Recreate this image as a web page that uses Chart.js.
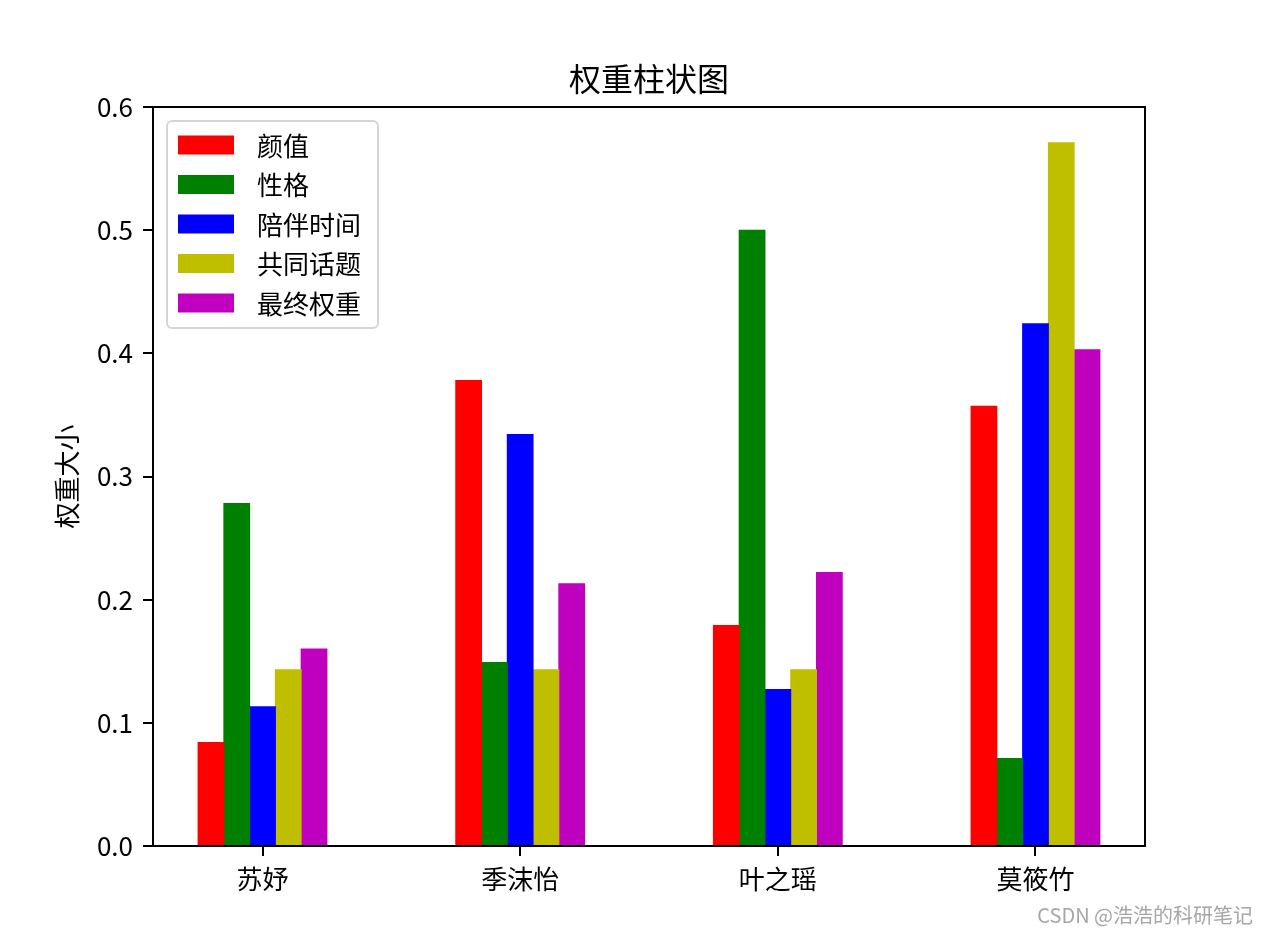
<!DOCTYPE html>
<html>
<head>
<meta charset="utf-8">
<script src="https://cdn.jsdelivr.net/npm/chart.js@4.4.1/dist/chart.umd.min.js"></script>
<style>
  html, body { margin: 0; padding: 0; background: #fff; }
</style>
</head>
<body>
<canvas id="weightChart" width="1269" height="933"></canvas>
<script>
// 四位候选人
const people = ['苏妤', '季沫怡', '叶之瑶', '莫筱竹'];
// 各指标名称
const criteria = ['颜值', '性格', '陪伴时间', '共同话题', '最终权重'];
// 各指标权重 (按人)
const looks = [0.084, 0.378, 0.179, 0.357];
const character = [0.278, 0.149, 0.500, 0.071];
const companyTime = [0.113, 0.334, 0.127, 0.424];
const commonTopics = [0.143, 0.143, 0.143, 0.571];
const finalWeight = [0.160, 0.213, 0.222, 0.403];
const yTicks = [0.0, 0.1, 0.2, 0.3, 0.4, 0.5, 0.6];

const seriesValues = [looks, character, companyTime, commonTopics, finalWeight];
const colors = ['#ff0000', '#008000', '#0000ff', '#bfbf00', '#bf00bf'];

const FONT = "'Noto Sans CJK SC', 'Noto Sans', sans-serif";
Chart.defaults.font.family = FONT;
Chart.defaults.color = '#000';

// legend drawn inside the axes, matplotlib style
const innerLegend = {
    id: 'innerLegend',
    afterDatasetsDraw(chart) {
        const ctx = chart.ctx;
        const ca = chart.chartArea;
        const x0 = ca.left + 14, y0 = ca.top + 14;
        const w = 211, h = 207;
        ctx.save();
        ctx.beginPath();
        ctx.roundRect(x0, y0, w, h, 5);
        ctx.fillStyle = 'rgba(255,255,255,0.8)';
        ctx.fill();
        ctx.lineWidth = 2;
        ctx.strokeStyle = '#d5d5d5';
        ctx.stroke();
        ctx.font = '26px ' + FONT;
        ctx.textBaseline = 'middle';
        chart.data.datasets.forEach((ds, i) => {
            const cy = y0 + 24 + i * 39.5;
            ctx.fillStyle = ds.backgroundColor;
            ctx.fillRect(x0 + 11, cy - 9.5, 56, 19);
            ctx.fillStyle = '#000';
            ctx.fillText(ds.label, x0 + 90, cy + 1);
        });
        ctx.restore();
    }
};

// four spines, title over the axes, watermark
const frame = {
    id: 'frame',
    afterDraw(chart) {
        const ctx = chart.ctx;
        const ca = chart.chartArea;
        ctx.save();
        ctx.lineWidth = 2;
        ctx.strokeStyle = '#000';
        ctx.strokeRect(ca.left, ca.top, ca.right - ca.left, ca.bottom - ca.top);

        ctx.font = '32px ' + FONT;
        ctx.fillStyle = '#000';
        ctx.textAlign = 'center';
        ctx.textBaseline = 'middle';
        ctx.fillText('权重柱状图', (ca.left + ca.right) / 2, 79);

        ctx.font = '20px ' + FONT;
        ctx.fillStyle = '#a6a6a6';
        ctx.textAlign = 'right';
        ctx.fillText('CSDN @浩浩的科研笔记', 1253, 915);
        ctx.restore();
    }
};

const ctx = document.getElementById('weightChart').getContext('2d');
const chart = new Chart(ctx, {
    type: 'bar',
    data: {
        datasets: criteria.map((name, i) => ({
            label: name,
            data: seriesValues[i].map((v, j) => ({ x: j, y: v })),
            backgroundColor: colors[i],
            borderWidth: 0,
            inflateAmount: 0.5,
            barPercentage: 1.0,
            categoryPercentage: 0.5
        }))
    },
    options: {
        responsive: false,
        animation: false,
        layout: {
            padding: { left: 0, right: 124, top: 107, bottom: 0 }
        },
        plugins: {
            legend: { display: false },
            tooltip: { enabled: false },
            title: { display: false }
        },
        scales: {
            x: {
                type: 'linear',
                offset: false,
                min: -0.425,
                max: 3.425,
                afterBuildTicks: (scale) => {
                    scale.ticks = people.map((_, i) => ({ value: i }));
                },
                afterFit: (scale) => { scale.height = 87; },
                ticks: {
                    callback: (v) => people[v],
                    font: { size: 26 },
                    color: '#000',
                    padding: 8,
                    maxRotation: 0,
                    autoSkip: false
                },
                grid: {
                    offset: false,
                    drawOnChartArea: false,
                    drawTicks: true,
                    tickLength: 10,
                    color: '#000',
                    lineWidth: 2
                },
                border: { display: true, color: '#000', width: 2 }
            },
            y: {
                min: 0,
                max: 0.6,
                afterBuildTicks: (scale) => {
                    scale.ticks = yTicks.map(v => ({ value: v }));
                },
                afterFit: (scale) => { scale.width = 153; },
                ticks: {
                    callback: (v) => v.toFixed(1),
                    font: { size: 26 },
                    color: '#000',
                    padding: 10
                },
                grid: {
                    drawOnChartArea: false,
                    drawTicks: true,
                    tickLength: 10,
                    color: '#000',
                    lineWidth: 2
                },
                border: { display: true, color: '#000', width: 2 },
                title: {
                    display: true,
                    text: '权重大小',
                    color: '#000',
                    font: { size: 26 },
                    padding: { top: 52, bottom: 0 }
                }
            }
        }
    },
    plugins: [innerLegend, frame]
});
</script>
</body>
</html>
